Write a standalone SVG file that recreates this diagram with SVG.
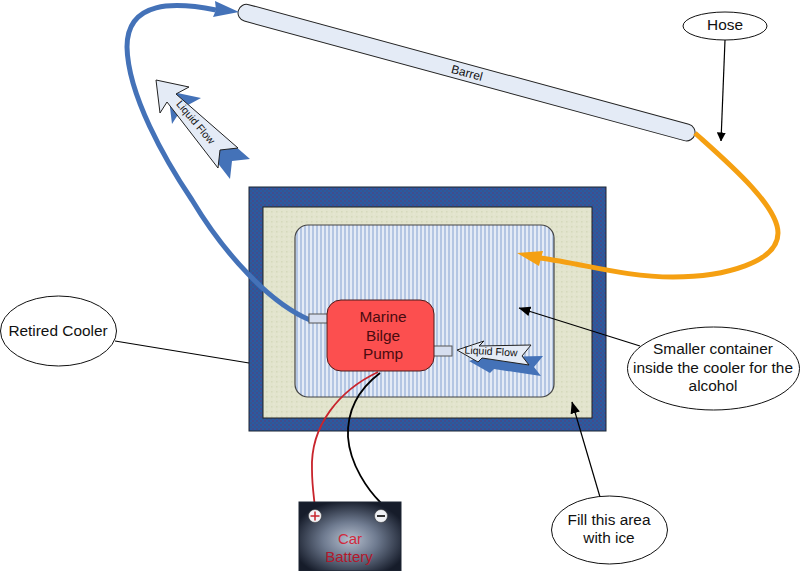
<svg xmlns="http://www.w3.org/2000/svg" width="800" height="571" viewBox="0 0 800 571">
  <defs>
    <pattern id="shell" width="4" height="4" patternUnits="userSpaceOnUse">
      <rect width="4" height="4" fill="#2a5aa2"/>
      <rect width="2" height="2" fill="#424c8c"/>
      <rect x="2" y="2" width="2" height="2" fill="#36558f"/>
    </pattern>
    <pattern id="ice" width="5" height="5" patternUnits="userSpaceOnUse">
      <rect width="5" height="5" fill="#e2e4cd"/>
      <rect x="1" y="1" width="1.500" height="1.500" fill="#d5d9bb"/>
      <rect x="3.500" y="3.500" width="1" height="1" fill="#eeeee0"/>
    </pattern>
    <pattern id="liquid" width="4" height="4" patternUnits="userSpaceOnUse">
      <rect width="4" height="4" fill="#e4ebf6"/>
      <rect width="2" height="4" fill="#b4c6e3"/>
    </pattern>
    <radialGradient id="batteryFace" cx="50%" cy="55%" r="58%">
      <stop offset="0" stop-color="#b6bfce"/>
      <stop offset="0.45" stop-color="#6f7b90"/>
      <stop offset="1" stop-color="#161c2a"/>
    </radialGradient>
    <marker id="pointer" viewBox="0 0 10 10" refX="9.500" refY="5" markerWidth="9" markerHeight="9" markerUnits="userSpaceOnUse" orient="auto">
      <path d="M0,0 L10,5 L0,10 Z" fill="#000"/>
    </marker>
    <marker id="pointerWide" viewBox="0 0 10 10" refX="9.500" refY="5" markerWidth="12" markerHeight="12" markerUnits="userSpaceOnUse" orient="auto">
      <path d="M0,1 L10,5 L0,9 Z" fill="#000"/>
    </marker>
    <path id="flowUpShape" d="M156,80 L189,87 L176,94 L238,148 L220,150 L218,168 L167,102 L160,113 Z"/>
    <path id="flowSideShape" d="M457,350 L484,341 L479,346 L531,345 L522,356 L529,365 L482,358 L478,362 Z"/>
  </defs>
  <style>
    text { font-family: "Liberation Sans", Arial, sans-serif; fill: #111; text-anchor: middle; }
    .note { fill: #fff; stroke: #111; stroke-width: 1; }
    .label { font-size: 15.4px; }
    .flow { font-size: 10.5px; }
    .leader { fill: none; stroke: #000; stroke-width: 1.2; }
    .pipe { fill: #d6deef; stroke: #555; stroke-width: 1; }
    .arrow { fill: #e4ebf6; stroke: #222; stroke-width: 1; }
    .shadow { fill: #4472b8; }
    .hose { fill: none; stroke-width: 5; }
  </style>

  <g id="cooler">
    <rect x="249" y="187" width="357" height="244" fill="url(#shell)" stroke="#1a2433" stroke-width="1"/>
    <rect x="263" y="207" width="329" height="211" fill="url(#ice)" stroke="#222" stroke-width="1"/>
  </g>
  <g id="container">
    <rect x="295" y="225" width="259" height="172" rx="13" fill="url(#liquid)" stroke="#444" stroke-width="1.200"/>
  </g>

  <g id="barrel">
    <rect x="238" y="4.500" width="473" height="17" rx="8.500" transform="rotate(15.2 247 13)" fill="#e4ebf6" stroke="#222" stroke-width="1"/>
    <text x="467" y="77" font-size="12" transform="rotate(15 467 73)">Barrel</text>
  </g>

  <g id="connectors">
    <path class="hose" stroke="#4472b8" d="M310,320 C270,303 225,255 192,200 C165,160 128,95 127,47 C127,0 175,2 216,10"/>
    <path class="shadow" d="M239,12 L215,1 L216,10 L213,17 Z"/>
    <path class="hose" stroke="#f5a012" d="M695,133 C725,160 778,205 778,233 C778,262 725,277 673,277 C625,277 585,264 540,258"/>
    <path fill="#f5a012" d="M517,253 L543,251 L541,258 L539,266 Z"/>
    <path fill="none" stroke="#c8242c" stroke-width="1.800" d="M378,372 C340,390 310,425 312,470 C312,485 314,497 315,508"/>
    <path fill="none" stroke="#000" stroke-width="1.800" d="M380,373 C355,392 347,415 348,437 C350,465 368,490 381,503"/>
    <path class="leader" d="M115,341 L249,363"/>
    <path class="leader" marker-end="url(#pointer)" d="M725,40 L721,141"/>
    <path class="leader" marker-end="url(#pointerWide)" d="M640,346 L519,308"/>
    <path class="leader" marker-end="url(#pointerWide)" d="M600,497 L572,402"/>
  </g>

  <g id="pump">
    <rect class="pipe" x="309" y="314" width="19" height="9"/>
    <rect class="pipe" x="433" y="346" width="19" height="10"/>
    <rect x="327" y="300" width="107" height="71" rx="14" fill="#fc4f4f" stroke="#4a1c1c" stroke-width="1"/>
    <text class="label" x="383" y="322" style="fill:#4a0b10">Marine</text>
    <text class="label" x="383" y="341" style="fill:#4a0b10">Bilge</text>
    <text class="label" x="383" y="359" style="fill:#4a0b10">Pump</text>
  </g>

  <g id="flow-up">
    <use href="#flowUpShape" class="shadow" transform="translate(12 11)"/>
    <use href="#flowUpShape" class="arrow"/>
    <text class="flow" x="196" y="126" transform="rotate(50 196 122)">Liquid Flow</text>
  </g>
  <g id="flow-side">
    <use href="#flowSideShape" class="shadow" transform="translate(12 11)"/>
    <use href="#flowSideShape" class="arrow"/>
    <text class="flow" x="491" y="355" transform="rotate(3 491 352)">Liquid Flow</text>
  </g>

  <g id="battery">
    <rect x="299" y="502" width="102" height="69" fill="url(#batteryFace)" stroke="#1d2432" stroke-width="1"/>
    <circle cx="315" cy="516" r="6.500" fill="#f3f3f6" stroke="#333" stroke-width="0.500"/>
    <path d="M310.500,516 H319.500 M315,511.500 V520.500" stroke="#c8242c" stroke-width="1.500" fill="none"/>
    <circle cx="381" cy="516" r="6.500" fill="#eef0f4" stroke="#333" stroke-width="0.500"/>
    <path d="M377,516 H385" stroke="#333" stroke-width="2" fill="none"/>
    <text x="350" y="544" font-size="15" style="fill:#d12a3c">Car</text>
    <text x="349" y="562" font-size="15" style="fill:#b2182b">Battery</text>
  </g>

  <g id="note-cooler">
    <ellipse class="note" cx="58.500" cy="331" rx="58" ry="35"/>
    <text class="label" x="58" y="336">Retired Cooler</text>
  </g>
  <g id="note-hose">
    <ellipse class="note" cx="725" cy="26" rx="42" ry="14"/>
    <text class="label" x="725" y="30">Hose</text>
  </g>
  <g id="note-container">
    <ellipse class="note" cx="713.500" cy="368.500" rx="86" ry="41.500"/>
    <text class="label" x="713" y="354">Smaller container</text>
    <text class="label" x="713" y="373">inside the cooler for the</text>
    <text class="label" x="713" y="391">alcohol</text>
  </g>
  <g id="note-ice">
    <ellipse class="note" cx="609.500" cy="530" rx="58" ry="34"/>
    <text class="label" x="609" y="525">Fill this area</text>
    <text class="label" x="609" y="543">with ice</text>
  </g>
</svg>
